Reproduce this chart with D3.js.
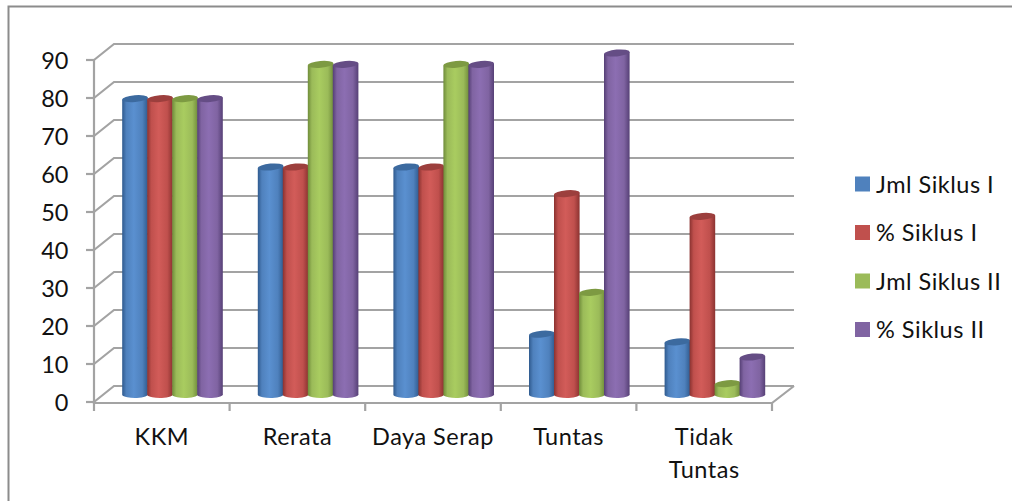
<!DOCTYPE html>
<html>
<head>
<meta charset="utf-8">
<script src="https://cdnjs.cloudflare.com/ajax/libs/d3/7.8.5/d3.min.js"></script>
<style>
html,body{margin:0;padding:0;background:#fff;overflow:hidden}
text{font-family:Lato,"Liberation Sans",sans-serif;fill:#111}
</style>
</head>
<body>
<svg id="chart" width="1012" height="501"></svg>
<script>
// Chart content
const categories = ["KKM", "Rerata", "Daya Serap", "Tuntas", "Tidak Tuntas"];
const seriesNames = ["Jml Siklus I", "% Siklus I", "Jml Siklus II", "% Siklus II"];
const jmlSiklus1 = [78, 60, 60, 16, 14];
const pctSiklus1 = [78, 60, 60, 53, 47];
const jmlSiklus2 = [78, 87, 87, 27, 3];
const pctSiklus2 = [78, 87, 87, 90, 10];
const seriesValues = [jmlSiklus1, pctSiklus1, jmlSiklus2, pctSiklus2];
const yTicks = [0, 10, 20, 30, 40, 50, 60, 70, 80, 90];

// Colours per series: base, dark edge, light centre, cap
const palette = [
  {base:"#4f81bd", edge:"#2f5a8e", light:"#5a90d0", cap:"#3c6a9f"},
  {base:"#c0504d", edge:"#8a3230", light:"#d25c59", cap:"#9c3f3d"},
  {base:"#9bbb59", edge:"#6f8c3a", light:"#a9cc60", cap:"#7d9a42"},
  {base:"#8064a2", edge:"#553f75", light:"#8c6eb2", cap:"#654d85"}
];

const svg = d3.select("#chart");
const defs = svg.append("defs");
palette.forEach((c, i) => {
  const g = defs.append("linearGradient").attr("id", "cyl" + i)
    .attr("x1", 0).attr("x2", 1).attr("y1", 0).attr("y2", 0);
  [[0, c.edge], [0.16, c.base], [0.45, c.light], [0.78, c.base], [1, c.edge]]
    .forEach(([o, col]) => g.append("stop").attr("offset", o).attr("stop-color", col));
});

// Frame of the chart area: only the top and left edges are visible
svg.append("path").attr("d", "M8.5,501V6.5H1012")
  .attr("fill", "none").attr("stroke", "#8c8c8c").attr("stroke-width", 2);

// Oblique projection: front plane of the floor plus a depth offset to the back wall
const frontLeft = 94, frontRight = 772;
const depthX = 20, depthY = -16;
const y = d3.scaleLinear().domain([0, 90]).range([402, 60]);
const x = d3.scaleBand().domain(categories).range([frontLeft, frontRight]);
const barBand = d3.scaleBand().domain(d3.range(seriesNames.length)).range([28.5, 128.5]);
const axisColor = "#a3a3a3";

// Wall grid lines, including the slanted run down the side wall
const grid = svg.append("g").attr("fill", "none").attr("stroke", axisColor).attr("stroke-width", 2.2);
grid.selectAll("path").data(yTicks).join("path")
  .attr("d", d => `M${frontLeft},${y(d)}L${frontLeft + depthX},${y(d) + depthY}H${frontRight + depthX + 2}`);

// Floor edges and axes
const axes = svg.append("g").attr("fill", "none").attr("stroke", axisColor).attr("stroke-width", 2.2);
axes.append("path").attr("d", `M${frontLeft},${y(90)}V${y(0) + 1}H${frontRight}L${frontRight + depthX + 2},${y(0) + depthY}`);
axes.selectAll("path.ytick").data(yTicks).join("path").attr("class", "ytick")
  .attr("d", d => `M${frontLeft - 8},${y(d)}H${frontLeft}`);
axes.selectAll("path.xtick").data(d3.range(categories.length + 1)).join("path").attr("class", "xtick")
  .attr("d", i => `M${frontLeft + i * x.step()},${y(0) + 1}v8`);

// Shared type settings
const fontSize = 23.5, tracking = 0.5;

// Y tick labels
svg.append("g").selectAll("text").data(yTicks).join("text")
  .attr("x", 68.5).attr("y", d => y(d) + 9)
  .attr("text-anchor", "end").attr("font-size", fontSize)
  .text(d => d);

// Cylinders: the body sits a little behind the front floor edge
const baseY = v => y(v) - 7;
const ry = 3.4;
const tilt = -5;
const layer = svg.append("g");
categories.forEach((cat, ci) => {
  seriesNames.forEach((_, si) => {
    const v = seriesValues[si][ci];
    const cx = x(cat) + barBand(si) + barBand.bandwidth() / 2;
    const top = baseY(v), bot = baseY(0);
    const rr = barBand.bandwidth() / 2 + 0.3;
    const g = layer.append("g");
    g.append("path")
      .attr("d", `M${cx - rr},${top + 1}V${bot}A${rr},${ry} 0 0 0 ${cx + rr},${bot - 1}V${top - 1}Z`)
      .attr("fill", `url(#cyl${si})`);
    g.append("ellipse")
      .attr("cx", cx).attr("cy", top).attr("rx", rr).attr("ry", ry)
      .attr("transform", `rotate(${tilt} ${cx} ${top})`)
      .attr("fill", palette[si].cap);
  });
});

// Category labels; the last wraps onto two lines
const labelRows = {"Tidak Tuntas": ["Tidak", "Tuntas"]};
const catLabels = svg.append("g").attr("text-anchor", "middle")
  .attr("font-size", fontSize).attr("letter-spacing", tracking);
categories.forEach(cat => {
  const cx = x(cat) + x.bandwidth() / 2;
  (labelRows[cat] || [cat]).forEach((line, i) => {
    catLabels.append("text").attr("x", cx).attr("y", 445 + i * 33).text(line);
  });
});

// Legend
const legend = svg.append("g");
const legendY = d3.scalePoint().domain(seriesNames).range([184, 329.5]);
legend.selectAll("rect").data(seriesNames).join("rect")
  .attr("x", 855).attr("y", d => legendY(d) - 7.5).attr("width", 15).attr("height", 15)
  .attr("fill", (d, i) => palette[i].base);
legend.selectAll("text").data(seriesNames).join("text")
  .attr("x", 876).attr("y", d => legendY(d) + 8.5)
  .attr("font-size", fontSize).attr("letter-spacing", tracking)
  .text(d => d);
</script>
</body>
</html>
